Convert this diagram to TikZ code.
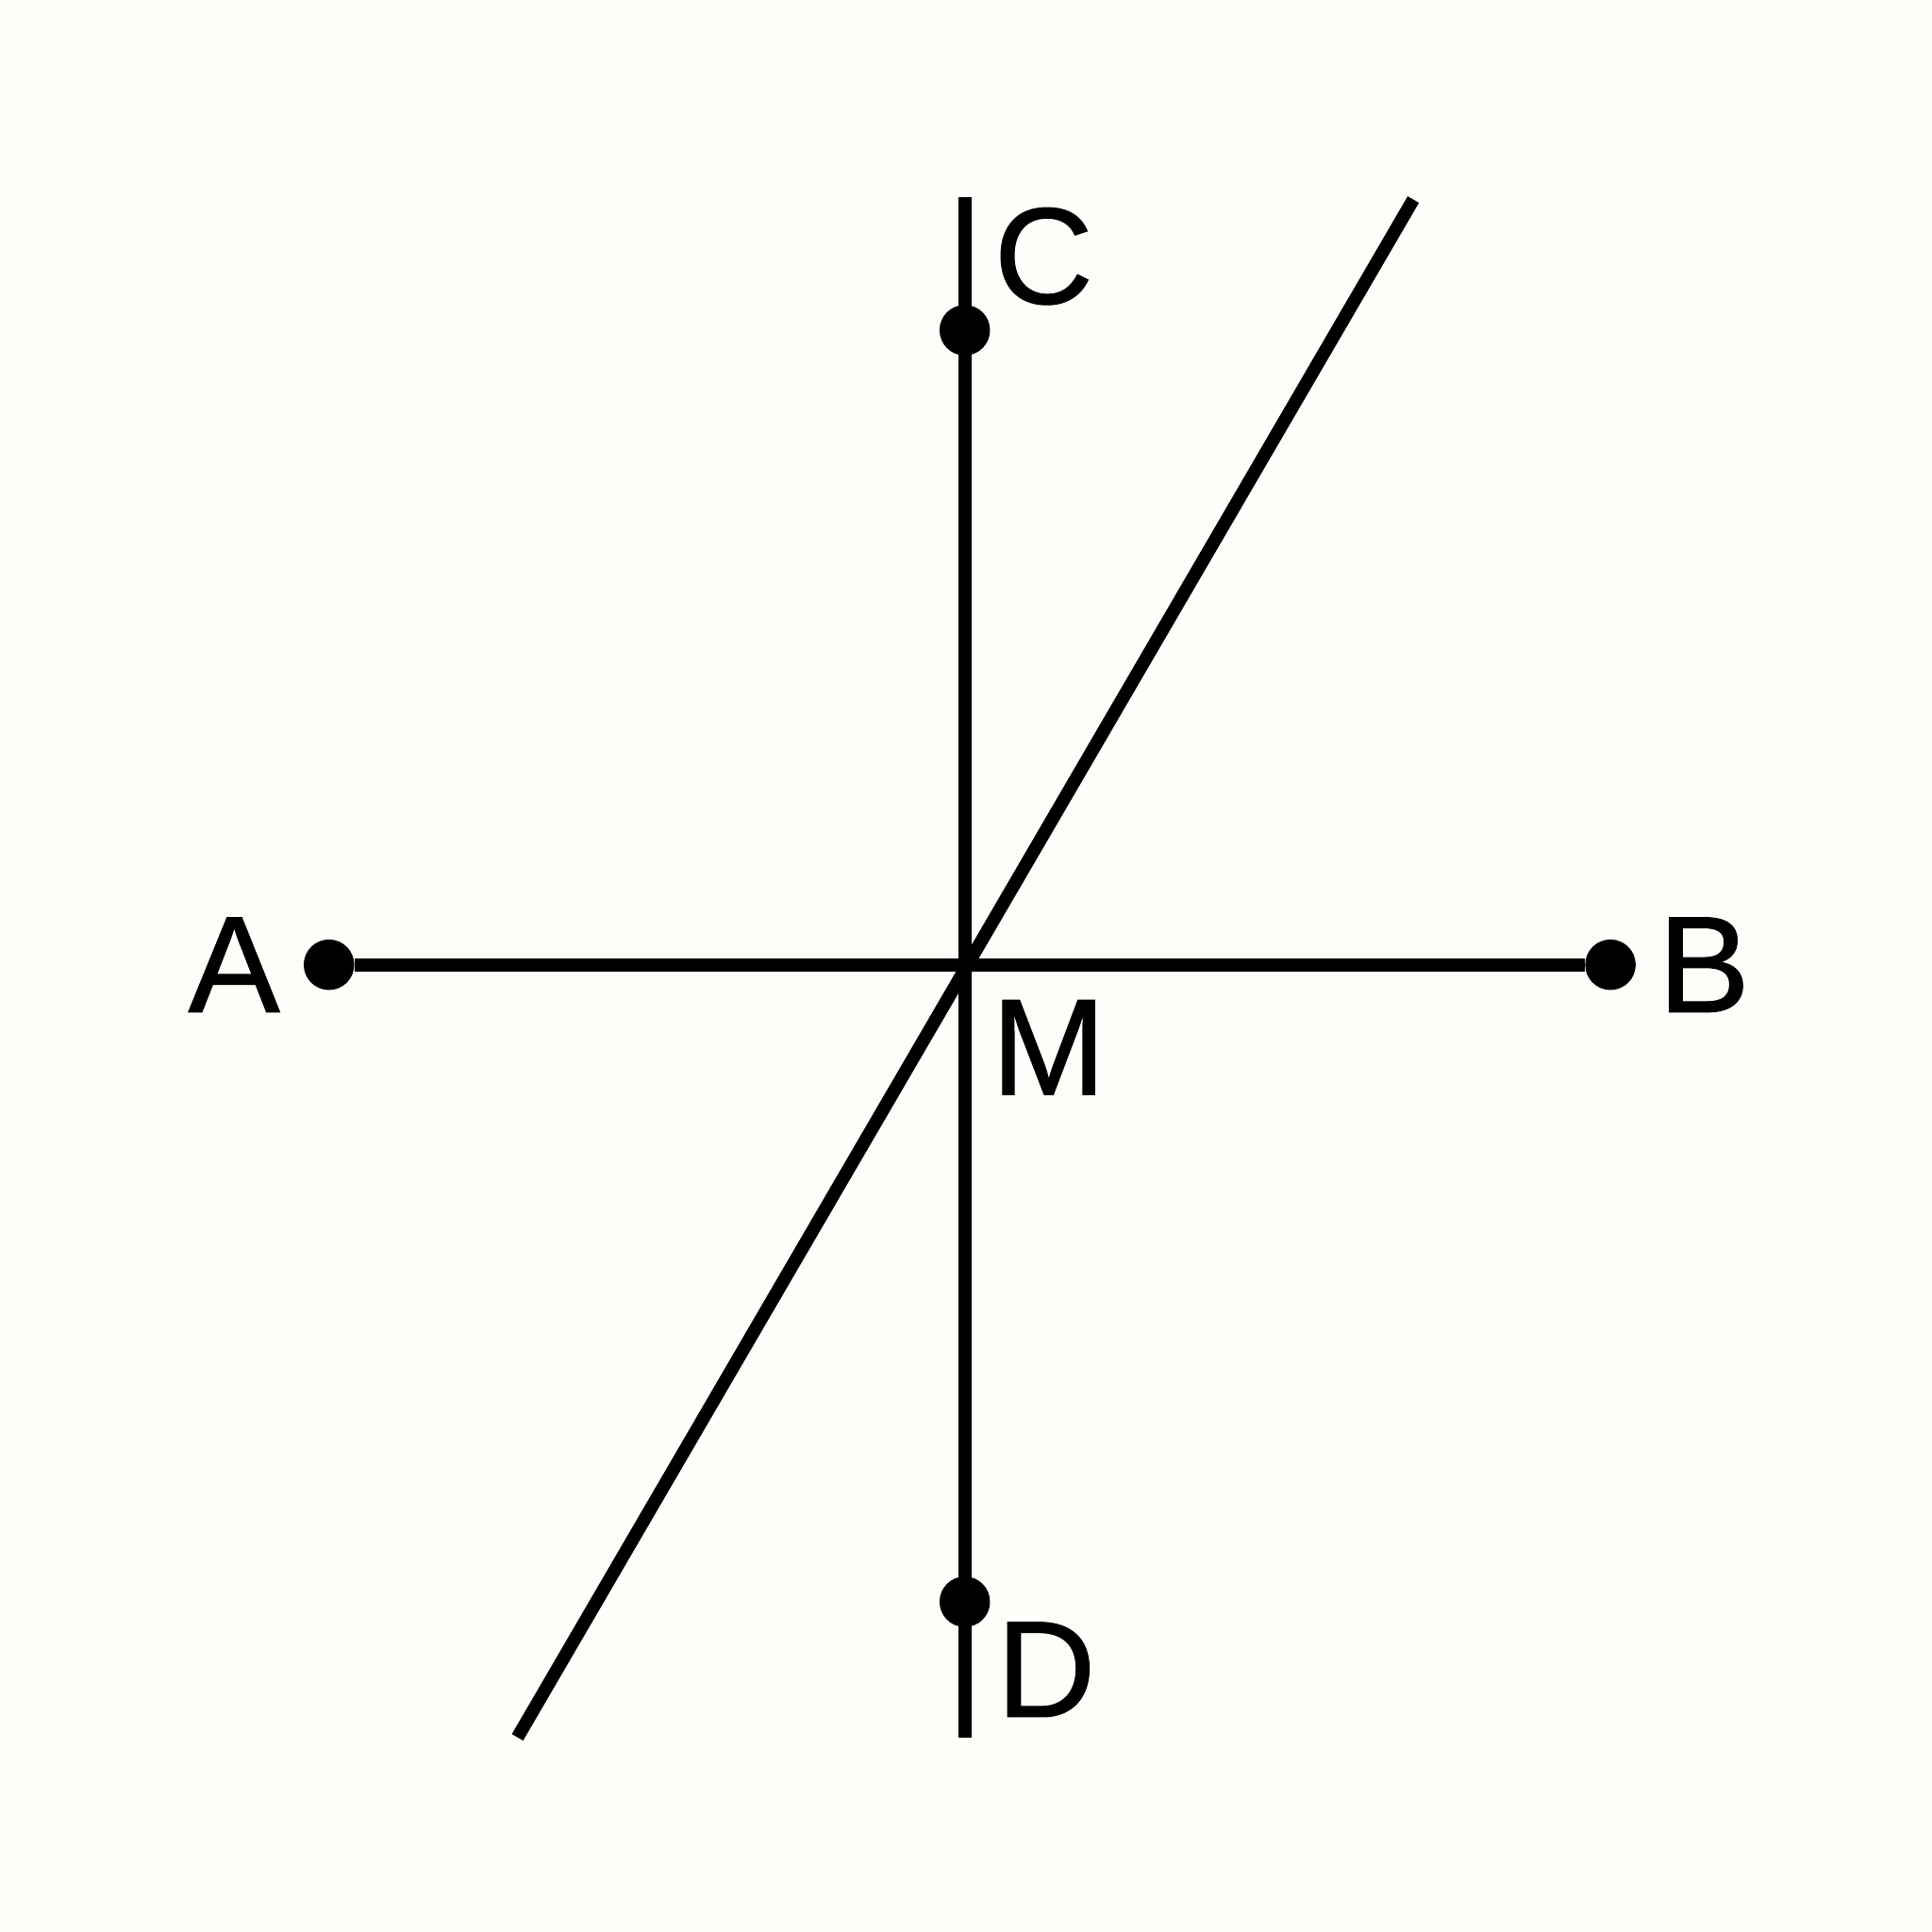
\documentclass[tikz,border=0pt]{standalone}
\usepackage{fontspec}
\setmainfont{Liberation Sans}
\newfontfamily\lblfont[FakeBold=0.8]{Liberation Sans}
\usetikzlibrary{positioning}
\definecolor{paper}{RGB}{253,253,249}
\tikzset{
  dot/.style = {circle, fill, minimum size=#1,
                inner sep=0pt, outer sep=0pt},
  dot/.default = 0.41cm,
  lbl/.style = {inner sep=0pt, anchor=center,
                font=\lblfont\fontsize{31.7}{38}\selectfont},
  seg/.style = {line width=3pt}
}

\begin{document}
\begin{tikzpicture}
	\def \W{15.68}
	\def \y{7.85}   % height of AB
	\def \xm{7.83}  % x of CD

	\fill[paper] (0,0) rectangle (\W,\W);
	\useasboundingbox (0,0) rectangle (\W,\W);

	% Points
	\node[dot] (A) at (2.67,\y) {};
	\node[dot] (B) at (13.07,\y) {};
	\node[dot] (C) at (\xm,13.00) {};
	\node[dot] (D) at (\xm,2.68) {};
	\coordinate (M) at (\xm,\y);

	% Line ends
	\coordinate (top) at (\xm,14.08);
	\coordinate (bot) at (\xm,1.58);
	\coordinate (s1) at (4.20,1.58);
	\coordinate (s2) at (11.47,14.06);

	% Lines
	\draw[seg] (A) -- (B);
	\draw[seg] (top) -- (bot);
	\draw[seg] (s1) -- (s2);

	% Labels
	\node[lbl] (lA) at (1.90,\y) {A};
	\node[lbl] (lB) at (13.83,\y) {B};
	\node[lbl] (lC) at (8.47,13.60) {C};
	\node[lbl] (lD) at (8.49,2.13) {D};
	\node[lbl] (lM) at (8.51,7.18) {M};

\end{tikzpicture}
\end{document}
